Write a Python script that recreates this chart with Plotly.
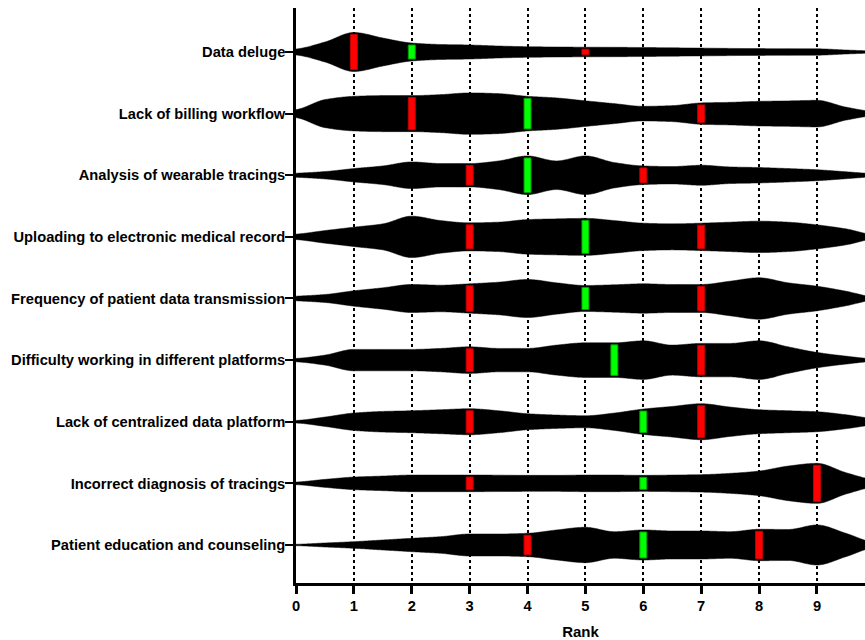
import plotly.graph_objects as go
import numpy as np

# Categories (top to bottom)
categories = [
    "Data deluge",
    "Lack of billing workflow",
    "Analysis of wearable tracings",
    "Uploading to electronic medical record",
    "Frequency of patient data transmission",
    "Difficulty working in different platforms",
    "Lack of centralized data platform",
    "Incorrect diagnosis of tracings",
    "Patient education and counseling",
]

# Rank positions at which the violin half-width (density) was read
rank_grid = [0, 0.5, 1, 1.5, 2, 2.5, 3, 3.5, 4, 4.5, 5, 5.5, 6, 6.5, 7, 7.5, 8, 8.5, 9, 9.5, 10]

# Relative density (violin half-width) per category
density_data_deluge = [3, 10, 19.5, 14, 9, 7.5, 7, 6, 5.3, 5, 4.8, 4.7, 4.5, 4.2, 3.9, 3.6, 3.4, 3.3, 3.2, 2, 1]
density_billing = [4, 14, 17.3, 18, 18, 19, 20.7, 20, 17.3, 15.7, 12.8, 10, 7.3, 8, 10.7, 11.3, 12.3, 12.7, 13.3, 6.5, 2]
density_wearable = [2, 3.7, 6.7, 9.3, 13.3, 11.7, 11.7, 14.3, 19.3, 14.3, 19.3, 12.7, 9.3, 8.7, 10, 8.3, 7.7, 6.7, 5.5, 3.5, 1.5]
density_emr = [2.7, 6.3, 9.7, 13, 20.7, 16.3, 14, 14.7, 17.3, 18, 18.5, 16.3, 13.7, 13, 13.7, 14.7, 15.7, 14.7, 12, 8, 2]
density_frequency = [2.3, 4, 7.7, 10.7, 14, 13.3, 14.7, 16.3, 19, 15.7, 13, 13.7, 14.7, 14, 14, 17.3, 20.7, 15.7, 12.3, 7.3, 1.5]
density_difficulty = [1.7, 5, 10.7, 10.7, 10.7, 11.7, 13.3, 11.7, 11.7, 15, 17.3, 17.3, 19.3, 15, 16.7, 16.7, 19.3, 13.3, 7.7, 4, 1.2]
density_centralized = [1.3, 4.7, 8.7, 10.3, 11, 12, 13, 11, 8, 6.7, 6, 8.7, 12.7, 15.3, 18, 14.7, 12, 11, 10, 7, 3]
density_incorrect = [1.3, 4, 6.3, 7.3, 8.3, 8.3, 8.3, 8.2, 8, 8, 8.3, 8.3, 8, 8.3, 8.7, 10, 12.3, 17.3, 20, 10.7, 3.5]
density_patient = [0.7, 2, 3.3, 5, 6.7, 8.3, 11, 11, 11.7, 15, 17.7, 13.3, 15, 14, 14, 13.3, 15.7, 15.5, 20, 11.7, 2.5]

densities = [
    density_data_deluge, density_billing, density_wearable, density_emr,
    density_frequency, density_difficulty, density_centralized,
    density_incorrect, density_patient,
]

# Quartiles and medians
q1 = [1, 2, 3, 3, 3, 3, 3, 3, 4]
median = [2, 4, 4, 5, 5, 5.5, 6, 6, 6]
q3 = [5, 7, 6, 7, 7, 7, 7, 9, 8]

x_ticks = [0, 1, 2, 3, 4, 5, 6, 7, 8, 9]

# Styling
PX_PER_CAT = 61.6          # pixel spacing between categories
SCALE = 1.0 / PX_PER_CAT   # density -> category units
INSET = 2.0                # bar inset inside violin (px)
BAR_W = 0.12
FONT = "Liberation Sans, Arial, sans-serif"

n = len(categories)
centers = [n - 1 - i for i in range(n)]


def pchip(x, y, xn):
    """Shape-preserving cubic (Fritsch-Carlson) smoothing of the read profile."""
    x = np.asarray(x, float)
    y = np.asarray(y, float)
    h = np.diff(x)
    delta = np.diff(y) / h
    m = np.zeros_like(y)
    m[0], m[-1] = delta[0], delta[-1]
    for k in range(1, len(x) - 1):
        if delta[k - 1] * delta[k] <= 0:
            m[k] = 0.0
        else:
            w1 = 2 * h[k] + h[k - 1]
            w2 = h[k] + 2 * h[k - 1]
            m[k] = (w1 + w2) / (w1 / delta[k - 1] + w2 / delta[k])
    idx = np.clip(np.searchsorted(x, xn) - 1, 0, len(x) - 2)
    t = (xn - x[idx]) / h[idx]
    h00 = 2 * t**3 - 3 * t**2 + 1
    h10 = t**3 - 2 * t**2 + t
    h01 = -2 * t**3 + 3 * t**2
    h11 = t**3 - t**2
    return h00 * y[idx] + h10 * h[idx] * m[idx] + h01 * y[idx + 1] + h11 * h[idx] * m[idx + 1]


fig = go.Figure()

for i, cat in enumerate(categories):
    c = centers[i]
    d = np.array(densities[i], dtype=float)
    xs = np.array(rank_grid, dtype=float)
    xg = np.concatenate([[-0.5], xs, [10.5]])
    dg = np.concatenate([[d[0] * 0.4], d, [d[-1] * 0.4]])
    xf = np.linspace(-0.5, 10.5, 661)
    df = np.maximum(pchip(xg, dg, xf), 0.0)
    upper = c + df * SCALE
    lower = c - df * SCALE
    fig.add_trace(go.Scatter(
        x=np.concatenate([xf, xf[::-1]]),
        y=np.concatenate([upper, lower[::-1]]),
        mode="lines", fill="toself", fillcolor="black",
        line=dict(color="black", width=0.5, simplify=False),
        hoverinfo="skip", showlegend=False,
    ))


def add_marks(values, fill, edge):
    xs, ys = [], []
    for i, v in enumerate(values):
        c = centers[i]
        dv = float(np.interp(v, rank_grid, densities[i]))
        h = max(dv - INSET, 1.5) * SCALE
        x0, x1 = v - BAR_W / 2, v + BAR_W / 2
        xs += [x0, x1, x1, x0, x0, None]
        ys += [c - h, c - h, c + h, c + h, c - h, None]
    fig.add_trace(go.Scatter(
        x=xs, y=ys, mode="lines", fill="toself", fillcolor=fill,
        line=dict(color=edge, width=1),
        hoverinfo="skip", showlegend=False,
    ))


add_marks(q1, "#ff0000", "#c00000")
add_marks(q3, "#ff0000", "#c00000")
add_marks(median, "#00ff00", "#00a000")

fig.update_layout(
    width=865, height=640,
    margin=dict(l=296, r=0, t=8, b=57),
    paper_bgcolor="white", plot_bgcolor="white",
    font=dict(family=FONT, size=14.7, color="black", weight="bold"),
)

fig.update_xaxes(
    range=[0, 9.83], tickvals=x_ticks, ticktext=[str(t) for t in x_ticks],
    showline=True, linecolor="black", linewidth=2.5,
    ticks="outside", ticklen=8, tickwidth=2.5, tickcolor="black",
    showgrid=True, gridcolor="black", gridwidth=1.5, griddash="dot",
    zeroline=False,
    tickfont=dict(family=FONT, size=14.7, color="black", weight="bold"),
    title=dict(text="Rank", font=dict(family=FONT, size=15, color="black", weight="bold"), standoff=14),
)

fig.update_yaxes(
    range=[-0.617, 8.714], tickvals=centers, ticktext=categories,
    showline=True, linecolor="black", linewidth=2.5,
    ticks="outside", ticklen=8, tickwidth=2, tickcolor="black",
    ticklabelstandoff=-3,
    showgrid=False, zeroline=False,
    tickfont=dict(family=FONT, size=14.7, color="black", weight="bold"),
)

fig.write_html("out.html", config={"displayModeBar": False},
               post_script="document.body.style.margin='0';")
